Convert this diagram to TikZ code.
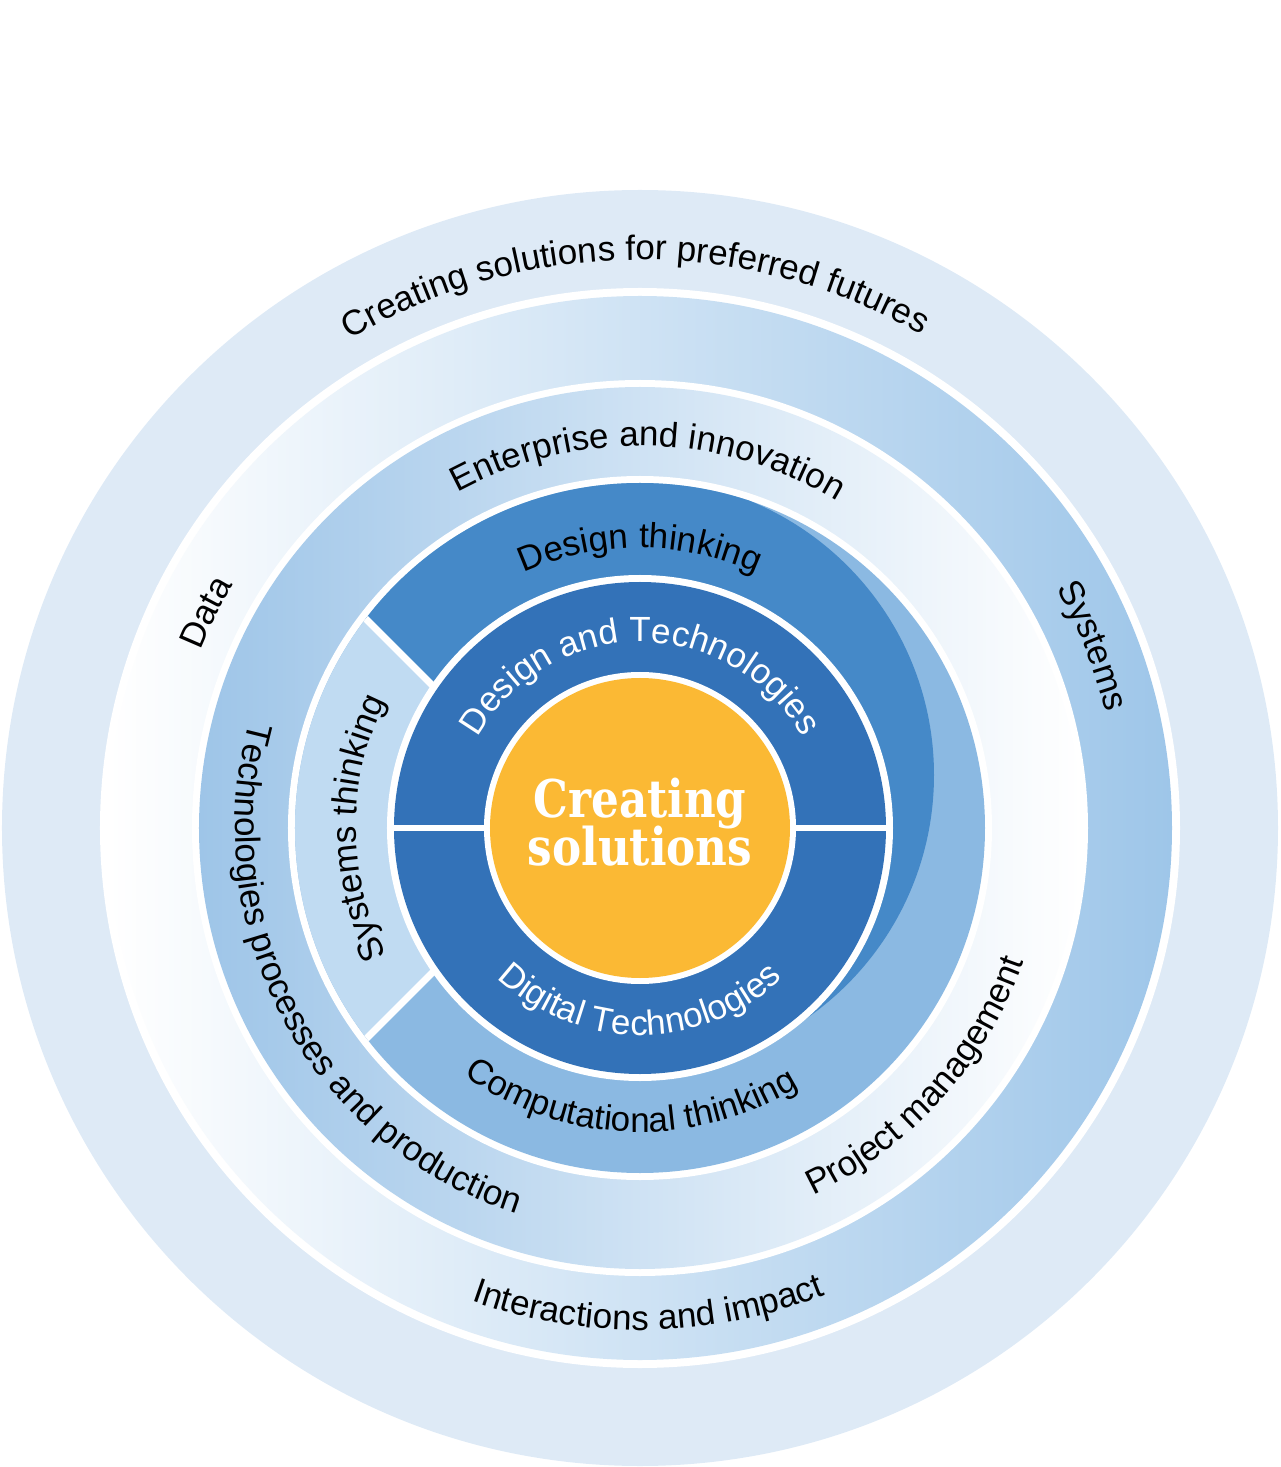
\documentclass[tikz,border=0pt]{standalone}
\usepackage{fontspec}
\setmainfont{Liberation Sans}
\newfontfamily\slabfont[FakeStretch=0.84]{DejaVu Serif}
\usetikzlibrary{decorations.text}
\definecolor{ringA}{HTML}{DEEAF6}
\definecolor{ringB}{HTML}{9EC6E9}
\definecolor{ringC}{HTML}{9EC5E8}
\definecolor{sysT}{HTML}{C0DBF2}
\definecolor{compT}{HTML}{8BB9E2}
\definecolor{desT}{HTML}{4589C8}
\definecolor{dtech}{HTML}{3372B8}
\definecolor{core}{HTML}{FBB934}
\newcommand{\lblfont}{\fontsize{35}{42}\selectfont}
\newcommand{\arclabel}[5]{%
  \path[decorate,decoration={text along path,text align=center,text color=#4,text={|\lblfont|#5}}]
    (#2:#1pt) arc[start angle=#2,end angle=#3,radius=#1pt];}
\tikzset{
  sep/.style={white,line width=7pt},
  coretext/.style={anchor=base,text=white,inner sep=0pt,font=\slabfont\bfseries\fontsize{52}{60}\selectfont}
}
\begin{document}
\begin{tikzpicture}[x=1pt,y=1pt]
\useasboundingbox (-640,-639) rectangle (640,828);
% outer rings
\fill[ringA] (0,0) circle[radius=638pt];
\fill[white] (0,0) circle[radius=540pt];
\shade[left color=white,right color=ringB] (0,0) circle[radius=532pt];
\fill[white] (0,0) circle[radius=448pt];
\shade[left color=ringC,right color=white] (0,0) circle[radius=441pt];
\fill[white] (0,0) circle[radius=352pt];
% thinking ring
\begin{scope}
  \clip (0,0) circle[radius=345pt];
  \fill[compT] (-350,-350) rectangle (350,350);
  \begin{scope}
    \clip (0,-400) rectangle (400,400);
    \fill[desT] (-2,53) circle[radius=296pt];
  \end{scope}
  \fill[desT] (0,-1) -- (-64,-1) -- (-464,399) -- (0,399) -- cycle;
  \fill[sysT] (-64,-1) -- (-564,499) -- (-564,-501) -- cycle;
  \draw[sep] (-564,499) -- (-64,-1) -- (-564,-501);
\end{scope}
% subject ring
\fill[white] (0,0) circle[radius=253pt];
\fill[dtech] (0,0) circle[radius=246pt];
\draw[white,line width=6pt] (-250,0) -- (250,0);
\fill[white] (0,0) circle[radius=156pt];
\fill[core] (0,0) circle[radius=150pt];
\node[coretext] (coreA) at (0,11) {Creating};
\node[coretext] (coreB) at (0,-37) {solutions};
% labels
\arclabel{568}{160}{21}{black}{Creating solutions for preferred futures}
\arclabel{382}{160}{17.4}{black}{Enterprise and innovation}
\arclabel{280}{160}{20}{black}{Design thinking}
\arclabel{186}{170}{10}{white}{Design and Technologies}
\arclabel{284}{250}{110}{black}{Systems thinking}
\arclabel{474}{213.6}{93.6}{black}{Data}
\arclabel{480}{81.9}{-38.1}{black}{Systems}
\arclabel{405}{140}{277}{black}{Technologies processes and production}
\arclabel{406}{258}{378}{black}{Project management}
\arclabel{502}{211}{331}{black}{Interactions and impact}
\arclabel{304}{198}{338}{black}{Computational thinking}
\arclabel{207}{190}{350}{white}{Digital Technologies}
\end{tikzpicture}
\end{document}
